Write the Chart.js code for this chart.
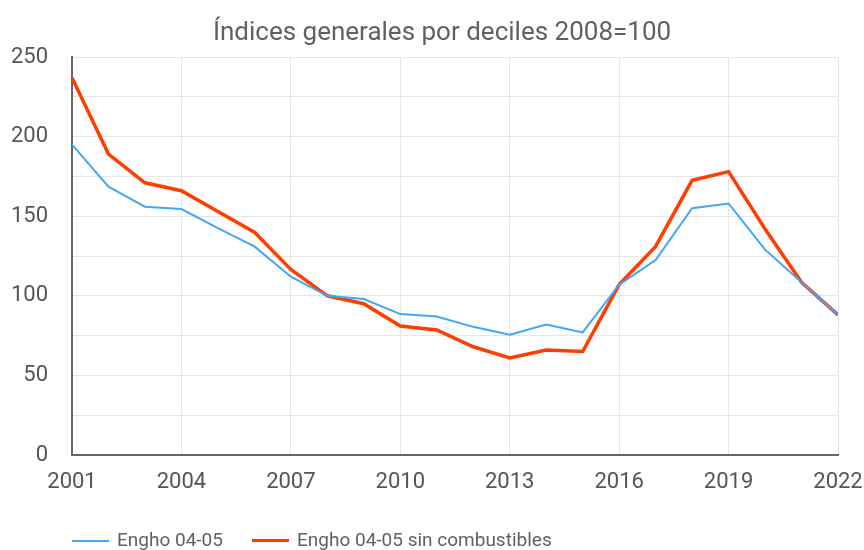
<!DOCTYPE html>
<html lang="es">
<head>
<meta charset="utf-8">
<title>Índices generales por deciles 2008=100</title>
<script src="https://cdn.jsdelivr.net/npm/chart.js@4.4.0/dist/chart.umd.min.js"></script>
<style>
    html, body { margin: 0; padding: 0; background: #fff; }
    #wrap { position: relative; width: 864px; height: 550px; }
    #title { position: absolute; left: 0; top: 16px; width: 884px; text-align: center; font: 26px Roboto, sans-serif; line-height: 31px; color: #616161; white-space: nowrap; }
    .lg-item { position: absolute; top: 529px; font: 19px Roboto, sans-serif; color: #616161; white-space: nowrap; line-height: 22px; }
    .lg-swatch { display: inline-block; width: 37px; vertical-align: middle; margin-right: 8px; }
</style>
</head>
<body>
<div id="wrap">
    <canvas id="chart" width="864" height="550"></canvas>
    <div id="title">Índices generales por deciles 2008=100</div>
</div>
<script>
// Datos
const years = [2001, 2002, 2003, 2004, 2005, 2006, 2007, 2008, 2009, 2010, 2011,
               2012, 2013, 2014, 2015, 2016, 2017, 2018, 2019, 2020, 2021, 2022];
const engho = [195, 168.5, 156, 154.5, 142.5, 131, 112, 100, 98, 88.5, 87,
               80.5, 75.5, 82, 77, 107, 122.5, 155, 158, 129, 108.5, 88];
const enghoSinComb = [237, 189, 171, 166, 153, 140, 116.5, 100, 95, 81, 78.5,
                      68, 61, 66, 65, 107, 131, 172.5, 178, 142, 108.5, 88];
const seriesNames = ['Engho 04-05', 'Engho 04-05 sin combustibles'];
const seriesColors = ['#42a5f5', '#ff3d00'];
const seriesWidths = [2, 3.5];
const yTicks = [0, 50, 100, 150, 200, 250];
const xTicks = [2001, 2004, 2007, 2010, 2013, 2016, 2019, 2022];

const FONT = 'Roboto, sans-serif';

function toPoints(values) {
    return years.map((y, i) => ({ x: y, y: values[i] }));
}

const datasets = [engho, enghoSinComb].map((vals, i) => ({
    label: seriesNames[i],
    data: toPoints(vals),
    borderColor: seriesColors[i],
    backgroundColor: seriesColors[i],
    borderWidth: seriesWidths[i],
    pointRadius: 0,
    tension: 0,
    fill: false
}));

new Chart(document.getElementById('chart'), {
    type: 'line',
    data: { datasets: datasets },
    options: {
        responsive: false,
        animation: false,
        layout: { padding: { left: 0, right: 0, top: 57, bottom: 48 } },
        plugins: {
            legend: { display: false },
            tooltip: { enabled: false },
            title: { display: false }
        },
        scales: {
            x: {
                type: 'linear',
                min: years[0],
                max: years[years.length - 1],
                afterBuildTicks: (axis) => { axis.ticks = xTicks.map(v => ({ value: v })); },
                afterFit: (axis) => {
                    axis.height = 47;
                    axis.paddingLeft = 0;
                    axis.paddingRight = 26;
                },
                grid: { color: '#e6e6e6', lineWidth: 1, drawTicks: false },
                border: { color: '#666', width: 2 },
                ticks: {
                    color: '#555',
                    font: { family: FONT, size: 22 },
                    padding: 14,
                    maxRotation: 0,
                    callback: (v) => String(v)
                }
            },
            y: {
                min: 0,
                max: 250,
                afterBuildTicks: (axis) => {
                    const t = [];
                    for (let v = 0; v <= 250; v += 25) t.push({ value: v });
                    axis.ticks = t;
                },
                afterFit: (axis) => {
                    axis.width = 72;
                    axis.paddingTop = 0;
                    axis.paddingBottom = 0;
                },
                grid: { color: '#e6e6e6', lineWidth: 1, drawTicks: false },
                border: { color: '#666', width: 2 },
                ticks: {
                    color: '#555',
                    font: { family: FONT, size: 22 },
                    padding: 24,
                    callback: (v) => yTicks.includes(v) ? String(v) : ''
                }
            }
        }
    }
});

// Leyenda
const legendLeft = [72, 252];
const wrap = document.getElementById('wrap');
seriesNames.forEach((name, i) => {
    const item = document.createElement('div');
    item.className = 'lg-item';
    item.style.left = legendLeft[i] + 'px';
    const sw = document.createElement('span');
    sw.className = 'lg-swatch';
    sw.style.borderTop = seriesWidths[i] + 'px solid ' + seriesColors[i];
    item.appendChild(sw);
    item.appendChild(document.createTextNode(name));
    wrap.appendChild(item);
});
</script>
</body>
</html>
